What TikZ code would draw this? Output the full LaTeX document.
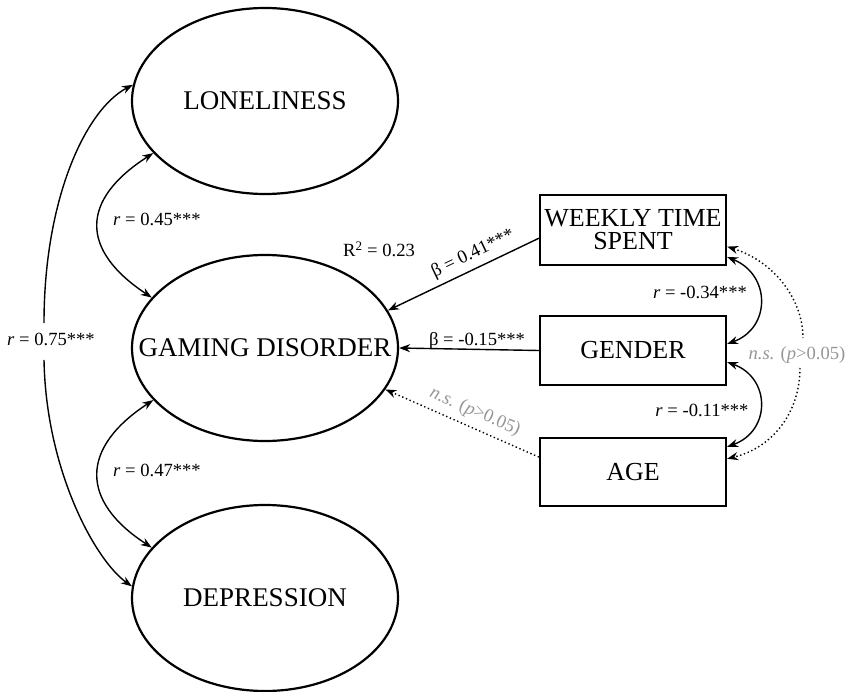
\documentclass[tikz,border=0pt]{standalone}
\usepackage{fontspec}
\setmainfont{Liberation Serif}
\usetikzlibrary{shapes.geometric,arrows.meta}
\definecolor{nsgray}{RGB}{150,150,150}
\begin{document}
\begin{tikzpicture}[x=1pt,y=-1pt,
 latent/.style={draw, ellipse, line width=2.2pt, minimum width=266pt, minimum height=186pt, inner sep=0pt,
   label={[font=\fontsize{27}{30}\selectfont, inner sep=0pt]center:#1}},
 observed/.style={draw, rectangle, line width=2.2pt, minimum width=186pt, inner sep=0pt, font=\fontsize{26}{23}\selectfont, align=center},
 arr/.style={line width=1.4pt, -{Stealth[length=11pt,width=8pt]}},
 darr/.style={line width=1.4pt, {Stealth[length=11pt,width=8pt]}-{Stealth[length=11pt,width=8pt]}},
 nsline/.style={line width=1.4pt, dash pattern=on 1.4pt off 2.6pt},
 lab/.style={font=\fontsize{18.6}{20}\selectfont, inner sep=1pt},
 nslab/.style={lab, text=nsgray}
]
\useasboundingbox (0,0) rectangle (853,692);

% latent variables
\node[latent=LONELINESS] (lone) at (265,101) {};
\node[latent=GAMING DISORDER] (gaming) at (265,348) {};
\node[latent=DEPRESSION] (dep) at (265,598) {};

% observed variables
\node[observed, minimum height=70pt] (weekly) at (633,230) {WEEKLY TIME\\SPENT};
\node[observed, minimum height=69pt] (gender) at (633,350.5) {GENDER};
\node[observed, minimum height=68pt] (age) at (633,472) {AGE};

% r = 0.75 (broken by its label)
\node[lab] (l75) at (51,339) {\textit{r} = 0.75***};
\coordinate (c75top) at (44,323);
\coordinate (c75bot) at (44,360);
\draw[arr] (c75top) .. controls (44,200) and (85,110) .. (lone.173);
\draw[arr] (c75bot) .. controls (46,470) and (95,560) .. (dep.175);

% r = 0.45 and r = 0.47
\draw[darr] (lone.205) .. controls (80,200) and (80,250) .. (gaming.156);
\node[lab] (l45) at (157,219) {\textit{r} = 0.45***};
\draw[darr] (gaming.205.6) .. controls (80,448) and (80,501) .. (dep.156);
\node[lab] (l47) at (157,470) {\textit{r} = 0.47***};

% R squared
\node[lab] (r2) at (379,249) {R\textsuperscript{2} = 0.23};

% regressions
\draw[arr] (weekly.185) -- (gaming.17);
\node[lab, rotate=25.6] (b41) at (473,254) {β = 0.41***};
\draw[arr] (gender.west) -- (gaming.east);
\node[lab] (b15) at (477,341) {β = -0.15***};
\draw[nsline, -{Stealth[length=11pt,width=8pt]}] (age.171) -- (gaming.-19.4);
\node[nslab, rotate=-23.6] (nsage) at (475,412) {\textit{n.s.} (\textit{p}>0.05)};

% covariances among observed
\draw[darr] (weekly.-16.4) .. controls (771,275) and (771,328) .. (gender.4);
\node[lab] (r34) at (700,292) {\textit{r} = -0.34***};
\draw[darr] (gender.-7) .. controls (771,378) and (771,431) .. (age.15);
\node[lab] (r11) at (702,410) {\textit{r} = -0.11***};

% n.s. weekly - age (broken by its label)
\node[nslab] (nsbig) at (797,355) {\textit{n.s.} (\textit{p}>0.05)};
\coordinate (nstop) at (803,338);
\coordinate (nsbot) at (800,368);
\draw[nsline, {Stealth[length=11pt,width=8pt]}-] (weekly.-10.2) .. controls (775,262) and (803,300) .. (nstop);
\draw[nsline, -{Stealth[length=11pt,width=8pt]}] (nsbot) .. controls (800,410) and (775,447) .. (age.8.5);
\end{tikzpicture}
\end{document}
